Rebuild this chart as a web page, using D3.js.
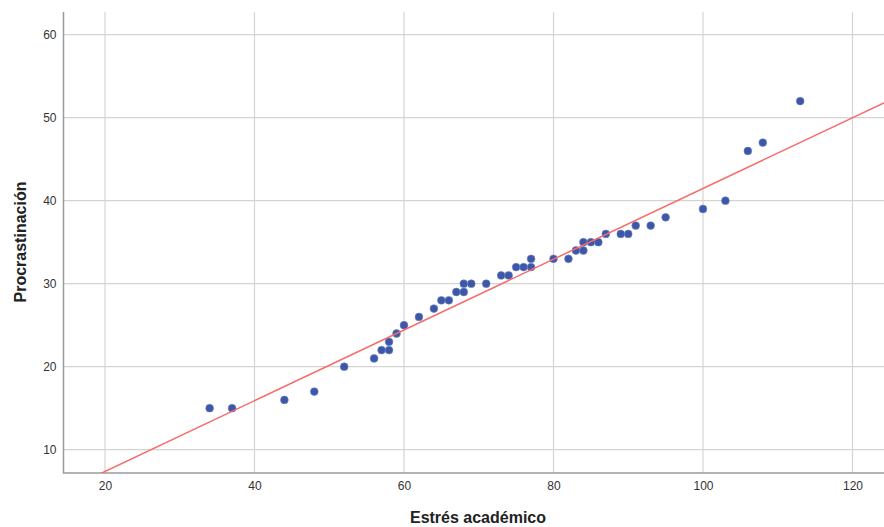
<!DOCTYPE html>
<html>
<head>
<meta charset="utf-8">
<script src="https://cdn.jsdelivr.net/npm/d3@7/dist/d3.min.js"></script>
<style>
  html, body { margin: 0; padding: 0; background: #fff; }
  svg { display: block; font-family: "Liberation Sans", Arial, sans-serif; }
</style>
</head>
<body>
<svg id="chart" width="884" height="527"></svg>
<script>
// Data
const estres = [34, 37, 44, 48, 52, 56, 57, 58, 58, 59, 60, 62, 64, 65, 66, 67, 68, 68, 69, 71,
                73, 74, 75, 76, 77, 77, 80, 82, 83, 84, 84, 85, 86, 87, 89, 90, 91, 93, 95,
                100, 103, 106, 108, 113];
const procrastinacion = [15, 15, 16, 17, 20, 21, 22, 22, 23, 24, 25, 26, 27, 28, 28, 29, 29, 30, 30, 30,
                31, 31, 32, 32, 32, 33, 33, 33, 34, 34, 35, 35, 35, 36, 36, 36, 37, 37, 38,
                39, 40, 46, 47, 52];
const xTicks = [20, 40, 60, 80, 100, 120];
const yTicks = [10, 20, 30, 40, 50, 60];
const fitLine = [-1.146, 0.4262]; // intercept, slope
const xTitle = "Estrés académico";
const yTitle = "Procrastinación";

const svg = d3.select("#chart");
const pLeft = 63.5, pRight = 884, pTop = 12, pBottom = 473;

const x = d3.scaleLinear().domain([20, 120]).range([105, 852.5]);
const y = d3.scaleLinear().domain([10, 60]).range([449.7, 34.7]);
const xMin = x.invert(pLeft), xMax = x.invert(pRight);

// clip
svg.append("defs").append("clipPath").attr("id", "clip")
  .append("rect").attr("x", pLeft).attr("y", pTop).attr("width", pRight - pLeft).attr("height", pBottom - pTop);

// gridlines
const grid = svg.append("g");
grid.selectAll("line.gx").data(xTicks).enter().append("line")
  .attr("x1", d => x(d)).attr("x2", d => x(d)).attr("y1", pTop).attr("y2", pBottom)
  .attr("stroke", "#d4d4d4").attr("stroke-width", 1.2);
grid.selectAll("line.gy").data(yTicks).enter().append("line")
  .attr("x1", pLeft).attr("x2", pRight).attr("y1", d => y(d)).attr("y2", d => y(d))
  .attr("stroke", "#d4d4d4").attr("stroke-width", 1.2);

// axes
const xAxis = d3.axisBottom(x).tickValues(xTicks).tickSize(0).tickPadding(8);
const yAxis = d3.axisLeft(y).tickValues(yTicks).tickSize(0).tickPadding(7);
const gx = svg.append("g").attr("transform", `translate(0,${pBottom})`).call(xAxis);
const gy = svg.append("g").attr("transform", `translate(${pLeft},0)`).call(yAxis);
gx.select(".domain").remove();
gy.select(".domain").remove();
[gx, gy].forEach(g => g.selectAll("text")
  .attr("font-size", 12).attr("fill", "#333").attr("font-family", "'Liberation Sans', Arial, sans-serif"));

svg.append("line").attr("x1", pLeft).attr("x2", pLeft).attr("y1", pTop).attr("y2", pBottom + 0.75)
  .attr("stroke", "#9a9a9a").attr("stroke-width", 1.5);
svg.append("line").attr("x1", pLeft).attr("x2", pRight).attr("y1", pBottom).attr("y2", pBottom)
  .attr("stroke", "#9a9a9a").attr("stroke-width", 1.5);

// points
const pts = estres.map((v, i) => [v, procrastinacion[i]]);
svg.append("g").selectAll("circle").data(pts).enter().append("circle")
  .attr("cx", d => x(d[0])).attr("cy", d => y(d[1])).attr("r", 3.9)
  .attr("fill", "#3d57a8").attr("stroke", "#6f84c2").attr("stroke-width", 0.6);

// fit line
const fx = [xMin, xMax];
svg.append("g").attr("clip-path", "url(#clip)").append("line")
  .attr("x1", x(fx[0])).attr("y1", y(fitLine[0] + fitLine[1] * fx[0]))
  .attr("x2", x(fx[1])).attr("y2", y(fitLine[0] + fitLine[1] * fx[1]))
  .attr("stroke", "#f76a6a").attr("stroke-width", 1.5);

// titles
svg.append("text").attr("x", 478).attr("y", 523).attr("text-anchor", "middle")
  .attr("font-size", 16).attr("font-weight", "bold").attr("fill", "#222").text(xTitle);
svg.append("text").attr("transform", "translate(26,242) rotate(-90)").attr("text-anchor", "middle")
  .attr("font-size", 16).attr("font-weight", "bold").attr("fill", "#222").text(yTitle);
</script>
</body>
</html>
